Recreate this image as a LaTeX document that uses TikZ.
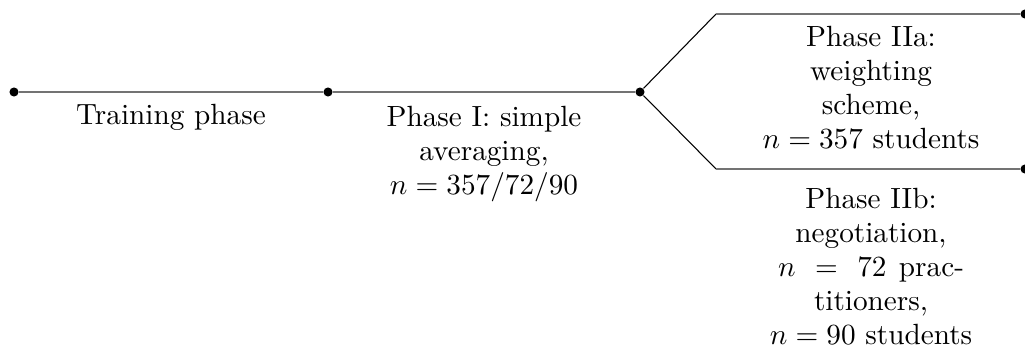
\documentclass[tikz,border=0pt]{standalone}
\usepackage{amsmath}
\begin{document}
\begin{tikzpicture}[x=0.3745pt,y=-0.3745pt,
  dot/.style={circle,fill=black,inner sep=0pt,minimum size=3.4pt},
  tl/.style={draw=black!55,line width=0.75pt},
  br/.style={draw=black,line width=0.4pt},
  lbl/.style={align=center,inner sep=0pt,anchor=north,font=\fontsize{10.95}{12.7}\selectfont}]
\useasboundingbox (0,0) rectangle (1025,359);
\node[dot] (d0) at (14,92) {};
\node[dot] (d1) at (328,92) {};
\node[dot] (d2) at (640,92) {};
\coordinate (ua) at (716,14);
\coordinate (ub) at (716,169);
\node[dot] (ea) at (1025,14) {};
\node[dot] (eb) at (1025,169) {};
\draw[tl] (d0) -- (d1);
\draw[tl] (d1) -- (d2);
\draw[br] (d2) -- (ua);
\draw[br] (d2) -- (ub);
\draw[tl] (ua) -- (ea);
\draw[tl] (ub) -- (eb);
\node[lbl] (train) at (171,104) {Training phase};
\node[lbl] (p1) at (484,106) {Phase I: simple\\averaging,\\$n=357/72/90$};
\node[lbl] (p2a) at (871,26) {Phase IIa:\\weighting\\scheme,\\$n=357$ students};
\node[lbl] (p2b) at (871,188) {Phase IIb:\\negotiation,\\$n\mskip 7mu=\mskip 7mu 72$\hspace{1pt} prac-\\titioners,\\$n=90$ students};
\end{tikzpicture}
\end{document}
